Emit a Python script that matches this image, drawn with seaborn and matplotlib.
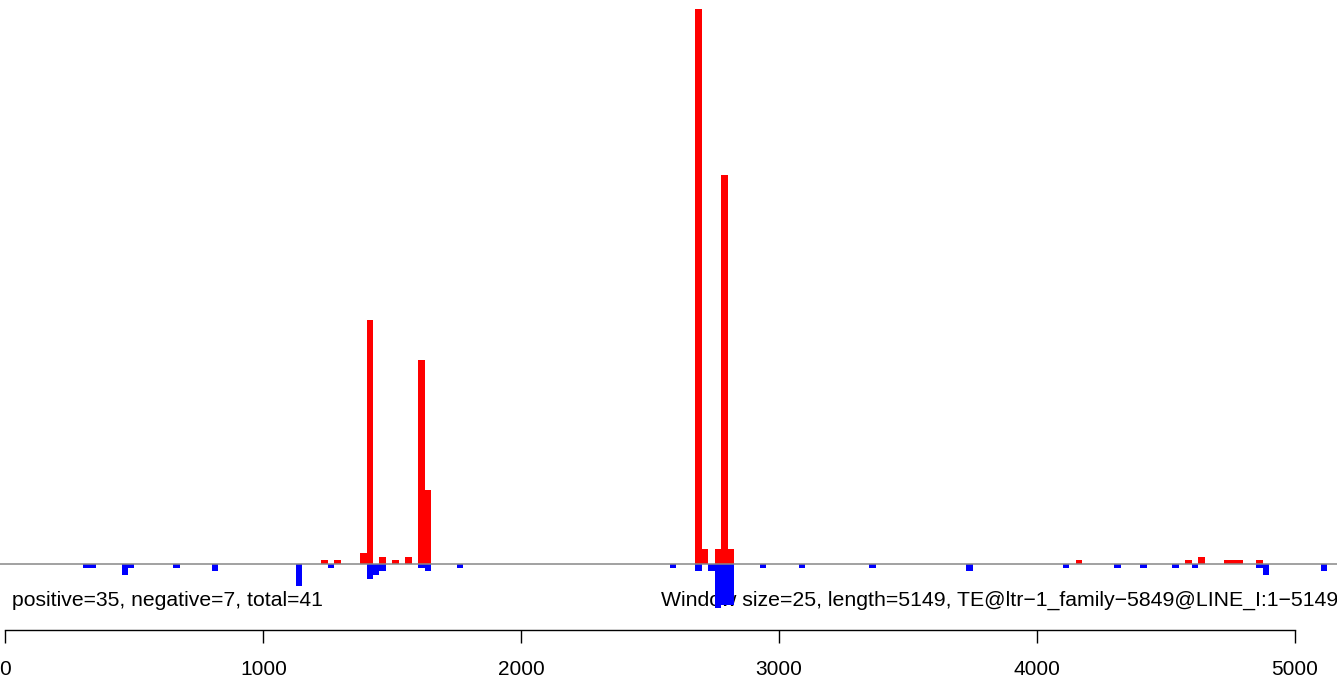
import numpy as np
import pandas as pd
import matplotlib
matplotlib.use("Agg")
import matplotlib.pyplot as plt
import seaborn as sns

# window size 25, sequence length 5149
window = 25
seq_len = 5149

# positive (red) windows: start position and count
pos_start = [1225, 1275, 1375, 1400, 1450, 1500, 1550, 1600, 1625,
             2675, 2700, 2750, 2775, 2800,
             4150, 4575, 4625, 4725, 4750, 4775, 4850]
pos_count = [1, 1, 3, 66, 2, 1, 2, 55, 20,
             150, 4, 4, 105, 4,
             1, 1, 2, 1, 1, 1, 1]

# negative (blue) windows: start position and count
neg_start = [300, 325, 450, 475, 650, 800, 1125, 1250, 1400, 1425, 1450,
             1600, 1625, 1750, 2575, 2675, 2725, 2750, 2775, 2800,
             2925, 3075, 3350, 3725, 4100, 4300, 4400, 4525, 4600,
             4850, 4875, 5100]
neg_count = [1, 1, 3, 1, 1, 2, 6, 1, 4, 3, 2,
             1, 2, 1, 1, 2, 2, 12, 11, 11,
             1, 1, 1, 2, 1, 1, 1, 1, 1,
             1, 3, 2]

summary_text = "positive=35, negative=7, total=41"
info_text = "Window size=25, length=5149, TE@ltr\u22121_family\u22125849@LINE_I:1\u22125149"
tick_values = [0, 1000, 2000, 3000, 4000, 5000]

sns.set_style("white")
plt.rcParams["font.family"] = ["Liberation Sans", "DejaVu Sans"]
plt.rcParams["text.color"] = "black"
plt.rcParams["xtick.color"] = "black"

pos_df = pd.DataFrame({"mid": np.array(pos_start) + window / 2, "count": pos_count})
neg_df = pd.DataFrame({"mid": np.array(neg_start) + window / 2,
                       "count": [-c for c in neg_count]})

fig = plt.figure(figsize=(13.37, 6.76), dpi=100)
ax = fig.add_axes([0, 0, 1, 1])

nbins = int(np.ceil(seq_len / window))
sns.histplot(data=pos_df, x="mid", weights="count", binwidth=window,
             binrange=(0, nbins * window),
             color="#FF0000", alpha=1, linewidth=0, edgecolor="none", ax=ax, zorder=3)
sns.histplot(data=neg_df, x="mid", weights="count", binwidth=window,
             binrange=(0, nbins * window),
             color="#0000FF", alpha=1, linewidth=0, edgecolor="none", ax=ax, zorder=3)

ax.axhline(0, color="#888888", lw=1.1, zorder=4)

ax.set_xlim(-21.3, 5163)
ax.set_ylim(-30.27, 152.43)

ax.text(25, -11.35, summary_text, fontsize=15.2, color="black",
        va="baseline", ha="left", zorder=2)
ax.text(2542, -11.35, info_text, fontsize=15.3, color="black",
        va="baseline", ha="left", zorder=2)

for s in ["left", "right", "top"]:
    ax.spines[s].set_visible(False)
ax.spines["bottom"].set_position(("data", -17.84))
ax.spines["bottom"].set_bounds(0, 5000)
ax.spines["bottom"].set_linewidth(1.0)
ax.spines["bottom"].set_color("black")
ax.set_xticks(tick_values)
ax.set_xticklabels([str(v) for v in tick_values])
ax.tick_params(axis="x", bottom=True, direction="out", length=9.4, width=1.0,
               color="black", labelcolor="black", pad=12, labelsize=15)
ax.set_yticks([])
ax.set_xlabel("")
ax.set_ylabel("")

fig.savefig("out.png", dpi=100)
